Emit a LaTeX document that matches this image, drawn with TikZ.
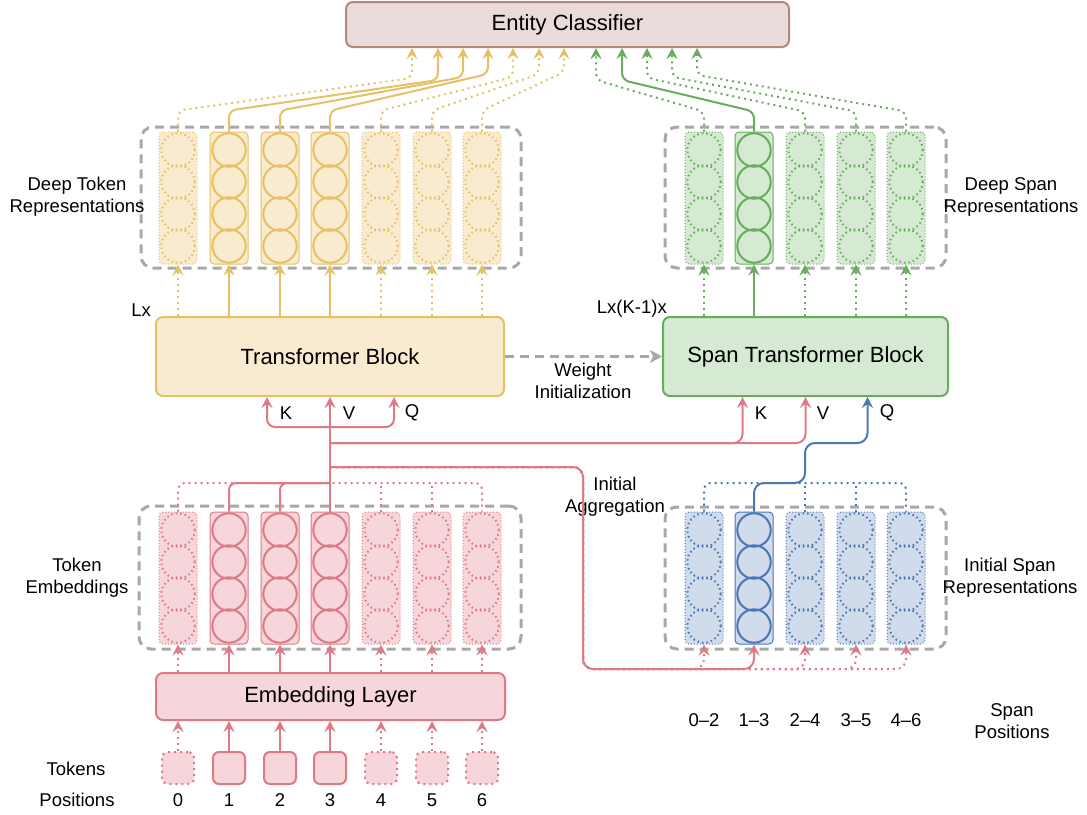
\documentclass[tikz,border=0pt]{standalone}
\usepackage{fontspec}
\setmainfont{Liberation Sans}
\usetikzlibrary{arrows.meta}
\definecolor{ylwF}{HTML}{F8EBD0}
\definecolor{ylwD}{HTML}{E6C164}
\definecolor{grnF}{HTML}{D6E9D3}
\definecolor{grnD}{HTML}{66AD5C}
\definecolor{redF}{HTML}{F6D6DA}
\definecolor{redD}{HTML}{DE7A86}
\definecolor{bluF}{HTML}{D0DBEB}
\definecolor{bluD}{HTML}{4D76B5}
\definecolor{clsF}{HTML}{E9DBD9}
\definecolor{clsD}{HTML}{B5857C}
\definecolor{grpD}{HTML}{A8A8A8}
\newcommand{\repcol}[6]{%
  \ifnum#6=1
    \node[colbox,draw=#5,fill=#4] (#1) at (#2,#3) {};
    \foreach \k in {0,...,3}\draw[#5,line width=2pt] (#2,#3-48+32*\k) circle[radius=16.7pt];
  \else
    \node[colbox,draw=#5,fill=#4,dash pattern=on 1pt off 2pt] (#1) at (#2,#3) {};
    \foreach \k in {0,...,3}\draw[#5,line width=2pt,cdots] (#2,#3-48+32*\k) circle[radius=16.7pt];
  \fi}
\begin{document}
\begin{tikzpicture}[x=1pt,y=-1pt,
  lbl/.style={font=\fontsize{18.5}{22}\selectfont, align=center, inner sep=0pt},
  big/.style={draw, line width=2pt, rounded corners=7pt, font=\fontsize{22}{26}\selectfont, inner sep=0pt},
  grp/.style={draw=grpD, line width=3pt, dash pattern=on 9pt off 6pt, rounded corners=12pt, inner sep=0pt},
  colbox/.style={rounded corners=4pt, minimum width=38pt, minimum height=132pt, inner sep=0pt, line width=1pt},
  tokbox/.style={rounded corners=6pt, minimum width=32pt, minimum height=32pt, inner sep=0pt, line width=2pt, draw=redD, fill=redF},
  arr/.style={line width=2pt, -{Stealth[length=11pt,width=11pt,inset=4pt]}},
  ln/.style={line width=2pt},
  dots/.style={dash pattern=on 2pt off 4pt},
  cdots/.style={dash pattern=on 1.5pt off 3pt},
]
\useasboundingbox (0,0) rectangle (1087,814);

% ---------- main blocks ----------
\node[big, draw=clsD, fill=clsF, minimum width=443pt, minimum height=45pt] (cls) at (567.5,24.5) {Entity Classifier};
\node[big, draw=ylwD, fill=ylwF, minimum width=348pt, minimum height=79pt] (tb) at (330,356.5) {Transformer Block};
\node[big, draw=grnD, fill=grnF, minimum width=285pt, minimum height=79pt] (stb) at (805.5,356.5) {Span Transformer Block};
\node[big, draw=redD, fill=redF, minimum width=349pt, minimum height=47pt] (emb) at (330.5,696.5) {Embedding Layer};

% ---------- groups ----------
\node[grp, minimum width=380pt, minimum height=141pt] (gDT) at (331,197.5) {};
\node[grp, minimum width=281pt, minimum height=141pt] (gDS) at (805.5,197.5) {};
\node[grp, minimum width=382pt, minimum height=143pt] (gTE) at (330,577.5) {};
\node[grp, minimum width=281pt, minimum height=142pt] (gIS) at (805.5,578) {};

% ---------- columns ----------
\repcol{dt0}{178}{198}{ylwF}{ylwD}{0}
\repcol{dt1}{229}{198}{ylwF}{ylwD}{1}
\repcol{dt2}{280}{198}{ylwF}{ylwD}{1}
\repcol{dt3}{330}{198}{ylwF}{ylwD}{1}
\repcol{dt4}{381}{198}{ylwF}{ylwD}{0}
\repcol{dt5}{432}{198}{ylwF}{ylwD}{0}
\repcol{dt6}{482}{198}{ylwF}{ylwD}{0}

\repcol{ds0}{704}{198}{grnF}{grnD}{0}
\repcol{ds1}{754}{198}{grnF}{grnD}{1}
\repcol{ds2}{805}{198}{grnF}{grnD}{0}
\repcol{ds3}{856}{198}{grnF}{grnD}{0}
\repcol{ds4}{906}{198}{grnF}{grnD}{0}

\repcol{te0}{178}{578}{redF}{redD}{0}
\repcol{te1}{229}{578}{redF}{redD}{1}
\repcol{te2}{280}{578}{redF}{redD}{1}
\repcol{te3}{330}{578}{redF}{redD}{1}
\repcol{te4}{381}{578}{redF}{redD}{0}
\repcol{te5}{432}{578}{redF}{redD}{0}
\repcol{te6}{482}{578}{redF}{redD}{0}

\repcol{is0}{704}{578}{bluF}{bluD}{0}
\repcol{is1}{754}{578}{bluF}{bluD}{1}
\repcol{is2}{805}{578}{bluF}{bluD}{0}
\repcol{is3}{856}{578}{bluF}{bluD}{0}
\repcol{is4}{906}{578}{bluF}{bluD}{0}

% ---------- tokens ----------
\node[tokbox, dots] (tk0) at (178,768) {};
\node[tokbox] (tk1) at (229,768) {};
\node[tokbox] (tk2) at (280,768) {};
\node[tokbox] (tk3) at (330,768) {};
\node[tokbox, dots] (tk4) at (381,768) {};
\node[tokbox, dots] (tk5) at (432,768) {};
\node[tokbox, dots] (tk6) at (482,768) {};

% ---------- labels ----------
\node[lbl] (lDT) at (77,197) {Deep Token\\Representations};
\node[lbl] (lDS) at (1011,197) {Deep Span\\Representations};
\node[lbl] (lTE) at (77,578) {Token\\Embeddings};
\node[lbl] (lIS) at (1010,578) {Initial Span\\Representations};
\node[lbl] (lIA) at (615,497) {Initial\\Aggregation};
\node[lbl] (lWI) at (583,381) {Weight\\Initialization};
\node[lbl] (lSP) at (1012,721) {Span\\Positions};
\node[lbl] (lTk) at (76,769) {Tokens};
\node[lbl] (lPo) at (77,800) {Positions};
\node[lbl, anchor=east] (lLx) at (151,310) {Lx};
\node[lbl, anchor=east] (lLK) at (667,309) {Lx(K-1)x};
\foreach \i/\x in {0/178,1/229,2/280,3/330,4/381,5/432,6/482}
  \node[lbl] (p\i) at (\x,800) {\i};
\node[lbl] (sp0) at (704,720) {0–2};
\node[lbl] (sp1) at (754,720) {1–3};
\node[lbl] (sp2) at (805,720) {2–4};
\node[lbl] (sp3) at (856,720) {3–5};
\node[lbl] (sp4) at (906,720) {4–6};
\node[lbl] (kT) at (286,413) {K};
\node[lbl] (vT) at (349,413) {V};
\node[lbl] (qT) at (412,413) {Q};
\node[lbl] (kS) at (761,413) {K};
\node[lbl] (vS) at (823,413) {V};
\node[lbl] (qS) at (887,413) {Q};

% ---------- tokens -> embedding -> token embeddings ----------
\foreach \i/\st in {0/dots,1/solid,2/solid,3/solid,4/dots,5/dots,6/dots}{
  \draw[arr, redD, \st] (tk\i.north) -- (tk\i.north |- emb.south);
  \draw[arr, redD, \st] (te\i.south |- emb.north) -- (te\i.south);
}

% ---------- token embeddings -> transformer block ----------
\coordinate (jTok) at (330,483);
\coordinate (jKV) at (330,427);
\coordinate (jSp) at (330,443);
\coordinate (jAg) at (330,467);
\coordinate (aggC) at (583,669);
\draw[ln, redD, dots, rounded corners=7pt] (te0.north) |- (te6.north |- jTok) -- (te6.north);
\draw[ln, redD, dots] (te4.north) -- (te4.north |- jTok);
\draw[ln, redD, dots] (te5.north) -- (te5.north |- jTok);
\draw[ln, redD, rounded corners=7pt] (te1.north) |- (jTok);
\draw[ln, redD, rounded corners=7pt] (te2.north) |- (jTok);
\draw[arr, redD] (te3.north) -- (te3.north |- tb.south);
\draw[arr, redD, rounded corners=8pt] (jKV) -| ([xshift=-63pt]tb.south);
\draw[arr, redD, rounded corners=8pt] (jKV) -| ([xshift=64pt]tb.south);

% ---------- to span transformer block (K, V) ----------
\draw[arr, redD, rounded corners=9pt] (jSp) -| ([xshift=-63pt]stb.south);
\draw[arr, redD, rounded corners=9pt] (jSp) -| (stb.south);

% ---------- initial aggregation ----------
\foreach \i in {0,2,3,4}
  \draw[arr, redD, dots, rounded corners=10pt] (jAg) -| (aggC) -| (is\i.south);
\draw[arr, redD, rounded corners=10pt] (jAg) -| (aggC) -| (is1.south);

% ---------- initial spans -> span transformer (Q) ----------
\coordinate (bq1) at (805,483);
\coordinate (bq2) at (805,443);
\draw[ln, bluD, dots, rounded corners=7pt] (is0.north) |- (is4.north |- bq1) -- (is4.north);
\draw[ln, bluD, dots] (is2.north) -- (bq1);
\draw[ln, bluD, dots] (is3.north) -- (is3.north |- bq1);
\draw[arr, bluD, rounded corners=10pt] (is1.north) |- (bq1) -- (bq2) -| ([xshift=62pt]stb.south);

% ---------- blocks -> deep representations ----------
\foreach \i/\st in {0/dots,1/solid,2/solid,3/solid,4/dots,5/dots,6/dots}
  \draw[arr, ylwD, \st] (dt\i.south |- tb.north) -- (dt\i.south);
\foreach \i/\st in {0/dots,1/solid,2/dots,3/dots,4/dots}
  \draw[arr, grnD, \st] (ds\i.south |- stb.north) -- (ds\i.south);

% ---------- weight initialization ----------
\draw[line width=3pt, grpD, dash pattern=on 9pt off 6pt, -{Stealth[length=12pt,width=13pt,inset=3pt]}] (tb.east) -- (stb.west);

% ---------- deep representations -> entity classifier ----------
\foreach \i/\a/\t/\st in {0/412/78/dots,1/438/80/solid,2/463/77/solid,3/488/74/solid,4/513/77/dots,5/539/74/dots,6/564/72/dots}
  \draw[arr, ylwD, \st, rounded corners=7pt] (dt\i.north) -- ++(0,-21) -- (\a,\t) -- (\a,0 |- cls.south);
\foreach \i/\a/\t/\st in {0/596/80/dots,1/622/80/solid,2/647/78/dots,3/672/77/dots,4/697/75/dots}
  \draw[arr, grnD, \st, rounded corners=7pt] (ds\i.north) -- ++(0,-20) -- (\a,\t) -- (\a,0 |- cls.south);

\end{tikzpicture}
\end{document}
